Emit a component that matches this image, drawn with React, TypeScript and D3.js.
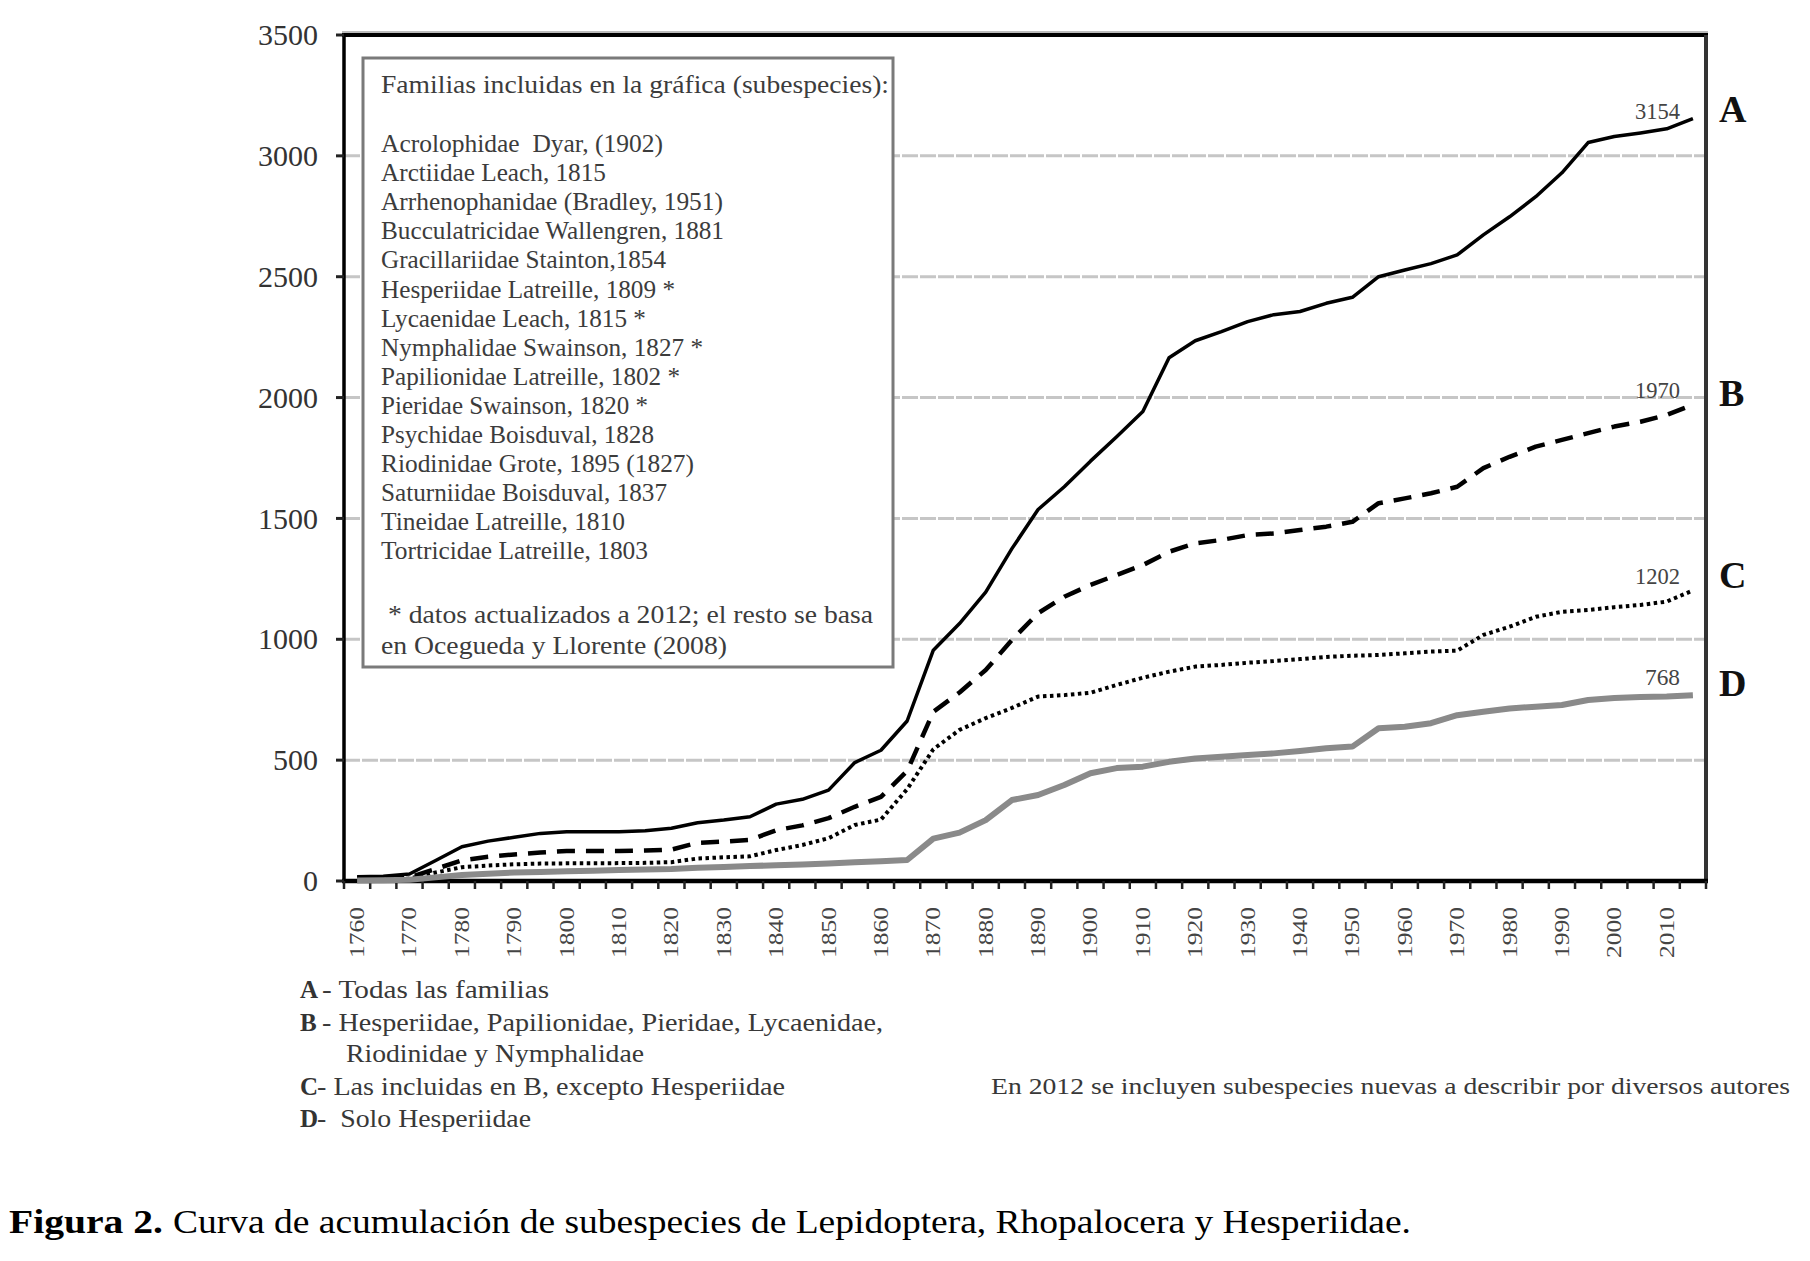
import React from 'react';
import * as d3 from 'd3';

const categories = [1760, 1765, 1770, 1775, 1780, 1785, 1790, 1795, 1800, 1805, 1810, 1815, 1820, 1825, 1830, 1835, 1840, 1845, 1850, 1855, 1860, 1865, 1870, 1875, 1880, 1885, 1890, 1895, 1900, 1905, 1910, 1915, 1920, 1925, 1930, 1935, 1940, 1945, 1950, 1955, 1960, 1965, 1970, 1975, 1980, 1985, 1990, 1995, 2000, 2005, 2010, 2015];

const seriesA = [18, 20, 29, 85, 142, 165, 181, 197, 204, 204, 204, 208, 218, 241, 252, 266, 318, 338, 376, 490, 541, 662, 955, 1065, 1195, 1375, 1537, 1631, 1737, 1838, 1942, 2165, 2235, 2273, 2314, 2343, 2356, 2390, 2415, 2500, 2528, 2554, 2590, 2673, 2748, 2831, 2930, 3055, 3080, 3095, 3112, 3154];
const seriesB = [10, 12, 15, 50, 85, 100, 110, 118, 124, 124, 124, 126, 130, 158, 163, 170, 210, 230, 260, 307, 348, 455, 700, 780, 873, 997, 1108, 1176, 1225, 1266, 1307, 1362, 1397, 1411, 1431, 1438, 1452, 1466, 1486, 1563, 1583, 1604, 1631, 1708, 1755, 1797, 1825, 1853, 1880, 1900, 1928, 1970];
const seriesC = [5, 5, 10, 35, 57, 64, 69, 72, 73, 73, 74, 75, 78, 93, 98, 102, 128, 149, 177, 232, 254, 380, 545, 625, 674, 716, 763, 769, 779, 811, 841, 866, 887, 894, 903, 910, 918, 927, 932, 935, 942, 949, 953, 1018, 1052, 1093, 1114, 1121, 1133, 1142, 1156, 1202];
const seriesD = [2, 3, 5, 15, 25, 30, 35, 37, 40, 42, 45, 48, 50, 55, 58, 62, 65, 68, 72, 78, 82, 87, 175, 200, 252, 335, 356, 397, 446, 467, 473, 493, 507, 514, 521, 528, 538, 549, 556, 632, 638, 653, 686, 700, 714, 721, 728, 749, 757, 761, 763, 768];

const endLabels = ['3154', '1970', '1202', '768'];
const seriesLetters = ['A', 'B', 'C', 'D'];

const yTicks = [0, 500, 1000, 1500, 2000, 2500, 3000, 3500];
const gridValues = [500, 1000, 1500, 2000, 2500, 3000];
const xTickLabels = [1760, 1770, 1780, 1790, 1800, 1810, 1820, 1830, 1840, 1850, 1860, 1870, 1880, 1890, 1900, 1910, 1920, 1930, 1940, 1950, 1960, 1970, 1980, 1990, 2000, 2010];

const boxTitle = 'Familias incluidas en la gráfica (subespecies):';
const familyLines = [
  'Acrolophidae  Dyar, (1902)',
  'Arctiidae Leach, 1815',
  'Arrhenophanidae (Bradley, 1951)',
  'Bucculatricidae Wallengren, 1881',
  'Gracillariidae Stainton,1854',
  'Hesperiidae Latreille, 1809 *',
  'Lycaenidae Leach, 1815 *',
  'Nymphalidae Swainson, 1827 *',
  'Papilionidae Latreille, 1802 *',
  'Pieridae Swainson, 1820 *',
  'Psychidae Boisduval, 1828',
  'Riodinidae Grote, 1895 (1827)',
  'Saturniidae Boisduval, 1837',
  'Tineidae Latreille, 1810',
  'Tortricidae Latreille, 1803',
];
const noteLines = [' * datos actualizados a 2012; el resto se basa', 'en Ocegueda y Llorente (2008)'];

const legendKeys = ['A', 'B', '', 'C', 'D'];
const legendTexts = ['- Todas las familias', '- Hesperiidae, Papilionidae, Pieridae, Lycaenidae,', 'Riodinidae y Nymphalidae', '- Las incluidas en B, excepto Hesperiidae', '-  Solo Hesperiidae'];
const sideNote = 'En 2012 se incluyen subespecies nuevas a describir por diversos autores';
const captionBold = 'Figura 2.';
const captionText = 'Curva de acumulación de subespecies de Lepidoptera, Rhopalocera y Hesperiidae.';

const familyWidths = [282, 225, 342, 343, 285, 294, 265, 322, 299, 267, 273, 313, 286, 244, 267];
const noteWidths = [492, 346];
const legendLayout = [
  { x: 322, y: 998, w: 227 },
  { x: 322, y: 1031, w: 561 },
  { x: 346, y: 1062, w: 298 },
  { x: 317, y: 1095, w: 468 },
  { x: 317, y: 1127, w: 214 },
];
const endLabelOffsets = [0, -7, -6, -10];
const letterY = [109, 393, 575, 683];

const FONT = "'Liberation Serif', 'Times New Roman', serif";

export default function App() {
  const W = 1810, H = 1261;
  const left = 344, right = 1706, top = 35, bottom = 881;
  const x = d3.scaleBand<number>().domain(categories).range([left, right]).padding(0);
  const y = d3.scaleLinear().domain([0, 3500]).range([bottom, top]);
  const bw = x.bandwidth();
  const cx = (c: number) => (x(c) as number) + bw / 2;
  const lineGen = d3.line<number>().x((_, i) => cx(categories[i])).y((v) => y(v));

  const series = [
    { vals: seriesA, stroke: '#000', width: 3.5, dash: undefined },
    { vals: seriesB, stroke: '#000', width: 4.5, dash: '18 11' },
    { vals: seriesC, stroke: '#000', width: 4, dash: '3.5 3.5' },
    { vals: seriesD, stroke: '#8a8a8a', width: 6, dash: undefined },
  ];
  const endVals = [seriesA, seriesB, seriesC, seriesD].map((s) => s[s.length - 1]);

  const boxX0 = 363, boxY0 = 58, boxX1 = 893, boxY1 = 667;
  const textX = 381;
  const txt = '#3c3c3c';

  return (
    <svg width={W} height={H} style={{ position: 'absolute', left: 0, top: 0, background: '#fff' }} fontFamily={FONT}>
      <rect x={0} y={0} width={W} height={H} fill="#fff" />
      {gridValues.map((v) => (
        <line key={v} x1={left} x2={right} y1={y(v)} y2={y(v)} stroke="#c6c6c6" strokeWidth={3} strokeDasharray="16 2" />
      ))}
      <rect x={boxX0} y={boxY0} width={boxX1 - boxX0} height={boxY1 - boxY0} fill="#fff" stroke="#7a7a7a" strokeWidth={3} />
      <text x={textX} y={93} fontSize={25} fill={txt} textLength={508} lengthAdjust="spacingAndGlyphs">{boxTitle}</text>
      {familyLines.map((t, i) => (
        <text key={t} x={textX} y={152 + i * 29.1} fontSize={25} fill={txt} style={{ whiteSpace: 'pre' }} textLength={familyWidths[i]} lengthAdjust="spacingAndGlyphs">{t}</text>
      ))}
      {noteLines.map((t, i) => (
        <text key={t} x={textX} y={623 + i * 31} fontSize={25} fill={txt} style={{ whiteSpace: 'pre' }} textLength={noteWidths[i]} lengthAdjust="spacingAndGlyphs">{t}</text>
      ))}
      <line x1={left - 2} x2={right + 2} y1={top - 3} y2={top - 3} stroke="#bbb" strokeWidth={2} />
      <line x1={left - 2} x2={right + 2} y1={top} y2={top} stroke="#000" strokeWidth={4} />
      <line x1={right} x2={right} y1={top} y2={bottom} stroke="#333" strokeWidth={4} />
      <line x1={left} x2={left} y1={top} y2={bottom + 2} stroke="#000" strokeWidth={3.5} />
      <line x1={left - 2} x2={right + 2} y1={bottom} y2={bottom} stroke="#000" strokeWidth={4.5} />
      {yTicks.map((v) => (
        <g key={v}>
          <line x1={left - 8} x2={left} y1={y(v)} y2={y(v)} stroke="#222" strokeWidth={3} />
          <text x={318} y={y(v)} dy="0.34em" textAnchor="end" fontSize={30} fill="#333">{v}</text>
        </g>
      ))}
      {d3.range(categories.length + 1).map((i) => (
        <line key={i} x1={left + i * bw} x2={left + i * bw} y1={bottom} y2={bottom + 8} stroke="#222" strokeWidth={2.5} />
      ))}
      {xTickLabels.map((yr) => (
        <text key={yr} transform={`translate(${cx(yr) + 7},${958}) rotate(-90)`} fontSize={22} fill="#444" textLength={51} lengthAdjust="spacingAndGlyphs">{yr}</text>
      ))}
      {series.map((s, i) => (
        <path key={i} d={lineGen(s.vals) || ''} fill="none" stroke={s.stroke} strokeWidth={s.width} strokeDasharray={s.dash} strokeLinejoin="round" />
      ))}
      {endLabels.map((t, i) => (
        <text key={t} x={1680} y={y(endVals[i]) + endLabelOffsets[i]} textAnchor="end" fontSize={23} fill="#444" textLength={t.length === 4 ? 45 : 35} lengthAdjust="spacingAndGlyphs">{t}</text>
      ))}
      {seriesLetters.map((t, i) => (
        <text key={t} x={1719} y={letterY[i]} dy="0.35em" fontSize={38} fontWeight="bold" fill="#111">{t}</text>
      ))}
      {legendTexts.map((t, i) => (
        <g key={i}>
          {legendKeys[i] ? (
            <text x={300} y={legendLayout[i].y} fontSize={25} fontWeight="bold" fill="#333">{legendKeys[i]}</text>
          ) : null}
          <text x={legendLayout[i].x} y={legendLayout[i].y} fontSize={25} fill="#383838" style={{ whiteSpace: 'pre' }} textLength={legendLayout[i].w} lengthAdjust="spacingAndGlyphs">{t}</text>
        </g>
      ))}
      <text x={991} y={1094} fontSize={24} fill="#383838" textLength={799} lengthAdjust="spacingAndGlyphs">{sideNote}</text>
      <text x={9} y={1233} fontSize={33} fontWeight="bold" fill="#000" textLength={154} lengthAdjust="spacingAndGlyphs">{captionBold}</text>
      <text x={173} y={1233} fontSize={33} fill="#000" textLength={1238} lengthAdjust="spacingAndGlyphs">{captionText}</text>
    </svg>
  );
}
